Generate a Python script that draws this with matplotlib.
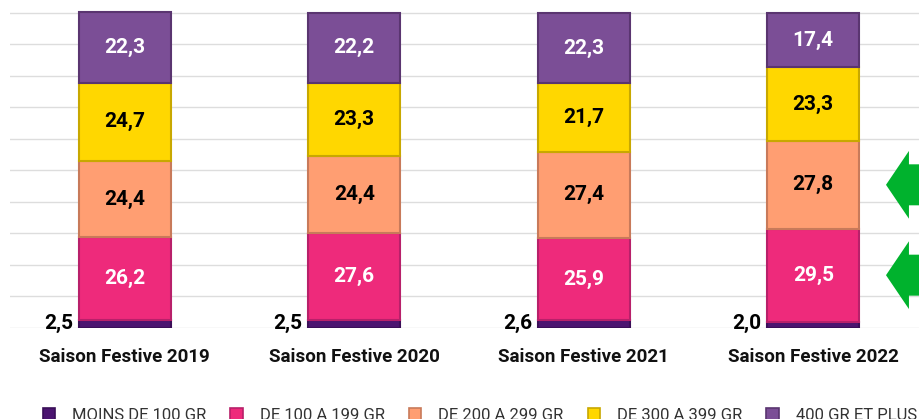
import numpy as np
import matplotlib.pyplot as plt
from matplotlib.patches import Patch, FancyArrow

plt.rcParams['font.family'] = ['Roboto', 'DejaVu Sans']

# Données
saisons = ['Saison Festive 2019', 'Saison Festive 2020', 'Saison Festive 2021', 'Saison Festive 2022']
categories = ['MOINS DE 100 GR', 'DE 100 A 199 GR', 'DE 200 A 299 GR', 'DE 300 A 399 GR', '400 GR ET PLUS']
moins_100 = [2.5, 2.5, 2.6, 2.0]
de_100_199 = [26.2, 27.6, 25.9, 29.5]
de_200_299 = [24.4, 24.4, 27.4, 27.8]
de_300_399 = [24.7, 23.3, 21.7, 23.3]
plus_400 = [22.3, 22.2, 22.3, 17.4]

series = [moins_100, de_100_199, de_200_299, de_300_399, plus_400]
colors = ['#4b1470', '#ee2a7b', '#ff9e72', '#ffd700', '#7b4e96']
edges = ['#3a0e58', '#b8206a', '#c87a5a', '#c8a800', '#5a3570']
txt_colors = [None, 'white', 'black', 'black', 'white']

fig = plt.figure(figsize=(9.19, 4.19), dpi=100)
ax = fig.add_axes([10 / 919, 91 / 419, 918 / 919, 328 / 419])

x = np.arange(len(saisons))
bottom = np.zeros(len(saisons))
for vals, c, ec, tc in zip(series, colors, edges, txt_colors):
    vals = np.array(vals)
    ax.bar(x, vals, 0.4, bottom=bottom, color=c, edgecolor=ec, linewidth=1.5, zorder=3)
    for xi, b, v in zip(x, bottom, vals):
        lab = f'{v:.1f}'.replace('.', ',')
        if tc is None:
            ax.text(xi - 0.225, b + 1.6, lab, ha='right', va='center',
                    fontsize=15, fontweight='bold', color='black', zorder=4)
        else:
            ax.text(xi, b + v / 2, lab, ha='center', va='center',
                    fontsize=15, fontweight='bold', color=tc, zorder=4)
    bottom = bottom + vals

# flèches vertes sur 2022
last = len(saisons) - 1
for k in (1, 2):
    yc = sum(s[last] for s in series[:k]) + series[k][last] / 2
    ax.add_patch(FancyArrow(3.7, yc, -(3.7 - 3.317), 0, width=13, head_width=21.5,
                            head_length=0.1, length_includes_head=True,
                            color='#00b22d', linewidth=0, zorder=5))

ax.set_xlim(-0.5, 3.5)
ax.set_ylim(0, 104)
ax.set_yticks(np.arange(0, 101, 10))
ax.yaxis.grid(True, color='#dddddd', linewidth=1, zorder=0)
ax.set_yticklabels([])
ax.tick_params(left=False, bottom=False)
ax.set_xticks(x)
ax.set_xticklabels(saisons, fontsize=13.5, fontweight='bold', color='#111111')
ax.tick_params(axis='x', pad=11)
for s in ax.spines.values():
    s.set_visible(False)

handles = [Patch(facecolor=c, edgecolor=ec, linewidth=1.2) for c, ec in zip(colors, edges)]
fig.legend(handles, categories, loc='center', bbox_to_anchor=(0.522, 4 / 419), ncol=5,
           frameon=False, fontsize=12, labelcolor='#333333', handlelength=0.75,
           handleheight=0.75, handletextpad=1.0, columnspacing=1.45)

fig.savefig('out.png', dpi=100)
